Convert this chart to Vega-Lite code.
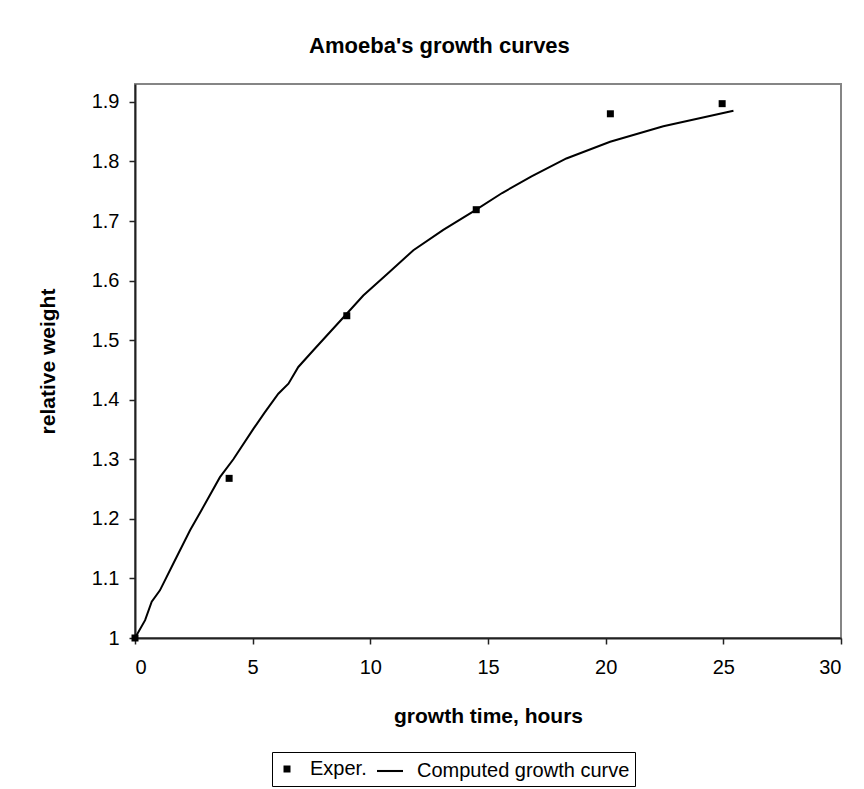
{
  "$schema": "https://vega.github.io/schema/vega-lite/v6.json",
  "width": 706,
  "height": 554,
  "autosize": {"type": "none"},
  "padding": {"left": 135, "top": 84, "right": 23, "bottom": 151},
  "background": "white",
  "title": {
    "text": "Amoeba's growth curves",
    "font": "Liberation Sans",
    "fontSize": 22,
    "fontWeight": "bold",
    "color": "black",
    "anchor": "middle",
    "frame": "bounds",
    "offset": 26
  },
  "config": {
    "font": "Liberation Sans",
    "view": {"stroke": "#858585", "strokeWidth": 2},
    "axis": {
      "grid": false,
      "domainColor": "#222",
      "domainWidth": 2,
      "tickColor": "#222",
      "tickWidth": 1.5,
      "tickSize": 6,
      "labelFont": "Liberation Sans",
      "labelFontSize": 20,
      "labelColor": "black",
      "titleFont": "Liberation Sans",
      "titleFontSize": 21,
      "titleFontWeight": "bold",
      "titleColor": "black"
    }
  },
  "datasets": {
    "exper": [
      {"t": 0, "w": 1.0, "series": "Exper."},
      {"t": 4, "w": 1.268, "series": "Exper."},
      {"t": 9, "w": 1.541, "series": "Exper."},
      {"t": 14.5, "w": 1.719, "series": "Exper."},
      {"t": 20.2, "w": 1.88, "series": "Exper."},
      {"t": 24.95, "w": 1.897, "series": "Exper."}
    ],
    "computed": [
      {"t": 0, "w": 1.0},
      {"t": 0.43, "w": 1.03},
      {"t": 0.71, "w": 1.061},
      {"t": 1.06, "w": 1.08},
      {"t": 1.63, "w": 1.125},
      {"t": 2.34, "w": 1.181},
      {"t": 2.83, "w": 1.215},
      {"t": 3.61, "w": 1.27},
      {"t": 4.18, "w": 1.3},
      {"t": 5.03, "w": 1.351},
      {"t": 5.5, "w": 1.378},
      {"t": 6.09, "w": 1.41},
      {"t": 6.52, "w": 1.427},
      {"t": 6.94, "w": 1.455},
      {"t": 7.58, "w": 1.483},
      {"t": 8.92, "w": 1.541},
      {"t": 9.7, "w": 1.575},
      {"t": 10.8, "w": 1.614},
      {"t": 11.83, "w": 1.651},
      {"t": 13.1, "w": 1.685},
      {"t": 14.45, "w": 1.718},
      {"t": 15.6, "w": 1.747},
      {"t": 16.85, "w": 1.775},
      {"t": 18.33, "w": 1.805},
      {"t": 20.19, "w": 1.833},
      {"t": 22.45, "w": 1.859},
      {"t": 25.43, "w": 1.885}
    ]
  },
  "layer": [
    {
      "data": {"name": "computed"},
      "mark": {"type": "line", "color": "black", "strokeWidth": 2},
      "encoding": {
        "x": {"field": "t", "type": "quantitative"},
        "y": {"field": "w", "type": "quantitative"}
      }
    },
    {
      "data": {"name": "exper"},
      "mark": {"type": "point", "filled": true, "color": "black", "opacity": 1},
      "encoding": {
        "x": {
          "field": "t",
          "type": "quantitative",
          "scale": {"domain": [0, 30], "nice": false, "zero": false},
          "axis": {
            "values": [0, 5, 10, 15, 20, 25, 30],
            "labelPadding": 13,
            "titlePadding": 28,
            "title": "growth time, hours"
          }
        },
        "y": {
          "field": "w",
          "type": "quantitative",
          "scale": {"domain": [1, 1.93], "nice": false, "zero": false},
          "axis": {
            "values": [1, 1.1, 1.2, 1.3, 1.4, 1.5, 1.6, 1.7, 1.8, 1.9],
            "format": "~g",
            "labelPadding": 10,
            "titlePadding": 33,
            "title": "relative weight"
          }
        },
        "shape": {
          "field": "series",
          "type": "nominal",
          "scale": {"domain": ["Exper.", "Computed growth curve"], "range": ["square", "M-1,-0.08L1,-0.08L1,0.08L-1,0.08Z"]},
          "legend": {
            "title": null,
            "orient": "none",
            "legendX": 137,
            "legendY": 668,
            "direction": "horizontal",
            "strokeColor": "black",
            "fillColor": "white",
            "padding": 5,
            "labelFontSize": 20,
            "labelFont": "Liberation Sans",
            "labelColor": "black",
            "labelLimit": 400,
            "labelOffset": 13,
            "columnPadding": 7,
            "symbolFillColor": "black",
            "symbolOpacity": 1
          }
        },
        "size": {
          "field": "series",
          "type": "nominal",
          "scale": {"domain": ["Exper.", "Computed growth curve"], "range": [49, 676]},
          "legend": {
            "title": null,
            "orient": "none",
            "legendX": 137,
            "legendY": 668,
            "direction": "horizontal",
            "strokeColor": "black",
            "fillColor": "white",
            "padding": 5,
            "labelFontSize": 20,
            "labelFont": "Liberation Sans",
            "labelColor": "black",
            "labelLimit": 400,
            "labelOffset": 13,
            "columnPadding": 7,
            "symbolFillColor": "black",
            "symbolOpacity": 1
          }
        }
      }
    }
  ]
}
